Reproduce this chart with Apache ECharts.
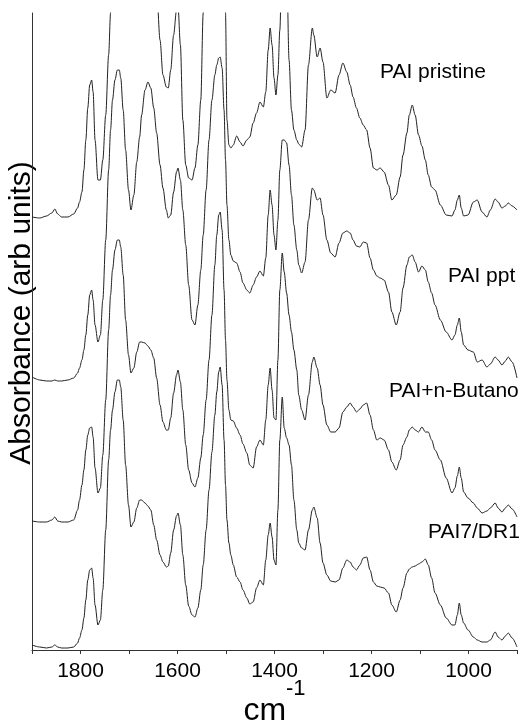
<!DOCTYPE html>
<html>
<head>
<meta charset="utf-8">
<script src="https://cdn.jsdelivr.net/npm/echarts@6/dist/echarts.min.js"></script>
<style>
html,body{margin:0;padding:0;background:#fff;}
#chart{width:519px;height:722px;}
</style>
</head>
<body>
<div id="chart"></div>
<script>
// Wavenumber grid (cm-1)
const wavenumbers = [1900,1884,1870,1859,1853,1847,1839,1826,1814,1806,
1802,1797,1793,1789,1785,1781,1777,1774,1770,1764,
1759,1754,1748,1742,1738,1734,1729,1724,1720,1717,
1712,1707,1701,1696,1690,1684,1678,1674,1667,1661,
1655,1649,1643,1636,1630,1623,1619,1614,1608,1602,
1599,1594,1589,1583,1577,1570,1564,1558,1552,1547,
1541,1535,1529,1523,1519,1515,1512,1508,1504,1501,
1498,1494,1490,1485,1478,1471,1465,1457,1451,1444,
1437,1430,1423,1418,1413,1409,1405,1401,1397,1393,
1389,1384,1380,1375,1370,1365,1360,1354,1350,1344,
1337,1330,1322,1319,1312,1306,1300,1292,1284,1275,
1267,1259,1251,1244,1238,1231,1224,1217,1210,1203,
1196,1189,1182,1174,1165,1158,1149,1141,1135,1127,
1122,1116,1110,1103,1096,1089,1083,1076,1069,1058,
1046,1034,1028,1023,1019,1015,1010,1001,990,982,
972,962,955,945,939,931,924,918,910,900];

// Absorbance (arb. units, offset traces)
const paiPristine = [433,432,434,437,441,436,433,433,436,442,
448,458,480,510,542,565,570,558,510,470,
470,490,535,595,637,690,760,850,890,870,
820,760,710,690,710,770,820,850,875,880,
830,740,660,610,575,563,562,580,615,640,
644,605,530,485,472,470,482,505,550,637,
740,850,950,990,1000,980,950,870,740,637,
530,505,502,505,514,508,504,510,513,527,
537,548,543,558,600,622,605,572,555,575,
620,710,790,690,590,540,520,510,506,503,
520,585,622,615,593,602,588,552,560,557,
575,587,578,565,553,542,532,525,520,502,
482,480,482,478,465,450,455,473,495,517,
535,545,535,515,504,490,475,463,460,445,
435,434,440,450,455,442,434,435,448,450,
438,433,440,451,448,442,444,447,444,440];

const paiPpt = [273,270,269,269,270,269,269,270,272,277,
282,290,300,315,335,355,360,350,325,308,
315,350,410,480,520,550,570,580,580,572,
540,500,460,440,455,488,513,535,560,568,
562,542,517,485,462,440,432,435,458,478,
482,470,440,405,365,330,325,345,380,415,
460,510,550,575,585,592,593,582,540,490,
445,410,395,389,387,378,367,360,357,365,
373,379,374,392,435,460,445,415,400,430,
480,510,510,507,485,455,425,400,385,377,
388,430,462,460,450,452,435,410,397,393,
407,417,419,417,410,404,403,408,407,392,
380,374,372,370,358,338,325,338,362,385,
393,395,388,378,384,380,368,357,345,330,
318,310,315,325,332,318,305,300,298,288,
290,283,286,293,290,285,289,293,288,272];

const paiButanol = [129,128,128,130,133,129,128,128,130,140,
150,165,180,200,215,222,223,213,182,157,
162,195,250,320,355,380,400,410,410,403,
375,330,295,277,282,298,308,308,307,304,
300,292,272,245,228,220,220,232,257,275,
280,268,240,205,180,167,163,172,192,215,
250,290,335,385,415,435,438,420,360,310,
270,240,230,229,222,215,206,197,185,182,
203,210,205,230,265,282,260,232,230,290,
360,397,378,357,335,318,300,280,255,240,
230,255,288,293,282,265,245,225,218,218,
222,238,243,247,243,238,241,245,247,235,
220,210,212,210,200,188,180,190,205,213,
220,223,220,218,223,218,218,210,200,190,
172,157,162,174,183,172,158,152,147,142,
137,139,142,147,142,138,142,145,141,133];

const pai7Dr1 = [5,3,2,3,5,3,2,2,3,7,
12,20,32,50,70,80,82,72,45,25,
30,60,120,190,220,240,258,270,270,263,
230,185,145,123,128,142,150,150,147,144,
140,125,110,95,88,83,84,97,120,134,
137,125,95,65,44,35,33,42,60,85,
120,160,198,235,258,278,283,265,210,165,
130,107,95,85,73,68,60,52,46,48,
62,70,65,90,115,127,113,90,85,140,
210,253,222,212,205,185,150,120,107,102,
100,120,140,143,132,107,87,75,69,68,
70,82,90,88,83,80,85,92,93,80,
68,64,63,62,57,45,38,50,62,77,
81,83,84,86,88,91,85,72,57,45,
32,25,25,35,47,35,27,20,13,10,
8,8,10,18,13,10,14,17,12,3];

const traceNames = ['PAI pristine','PAI ppt','PAI+n-Butanol','PAI7/DR1'];
const traceValues = [paiPristine, paiPpt, paiButanol, pai7Dr1];
const labeledTicks = [1000,1200,1400,1600,1800];

const FONT = '"Liberation Sans", Arial, Helvetica, sans-serif';
const chart = echarts.init(document.getElementById('chart'), null, {renderer:'canvas'});

const series = traceValues.map((vals, k) => ({
  name: traceNames[k],
  type: 'line',
  data: wavenumbers.map((w, i) => [w, vals[i]]),
  showSymbol: false,
  smooth: 0.3,
  smoothMonotone: 'x',
  clip: true,
  lineStyle: {color: '#222', width: 1},
  silent: true
}));

chart.setOption({
  animation: false,
  backgroundColor: '#fff',
  grid: {left: 32, right: 2, top: 13, bottom: 72, containLabel: false, outerBoundsMode: 'none'},
  xAxis: {
    type: 'value', min: 900, max: 1900, interval: 100, inverse: true,
    axisLine: {show: true, lineStyle: {color: '#333', width: 1}},
    axisTick: {show: true, length: 4, lineStyle: {color: '#333'}},
    splitLine: {show: false},
    axisLabel: {
      margin: 11, color: '#000', fontSize: 21, fontFamily: FONT,
      formatter: v => labeledTicks.indexOf(v) >= 0 ? String(v) : ''
    },
    name: '{a|cm}{b|-1}',
    nameLocation: 'middle',
    nameGap: 45,
    nameMoveOverlap: false,
    nameTextStyle: {
      rich: {
        a: {fontSize: 32, lineHeight: 32, fontFamily: FONT, color: '#000', verticalAlign: 'bottom'},
        b: {fontSize: 22, lineHeight: 22, fontFamily: FONT, color: '#000', verticalAlign: 'bottom', padding: [0,0,27,0]}
      }
    }
  },
  yAxis: {
    type: 'value', min: 0, max: 637,
    axisLine: {show: true, lineStyle: {color: '#333', width: 1}},
    axisTick: {show: false},
    axisLabel: {show: false},
    splitLine: {show: false},
    name: 'Absorbance (arb units)',
    nameLocation: 'middle',
    nameGap: -5,
    nameMoveOverlap: false,
    nameTextStyle: {fontSize: 30, fontFamily: FONT, color: '#000', padding: [0,0,0,37]}
  },
  graphic: [
    {type:'text', left: 380, top: 62, style:{text:'PAI pristine', font:'21px ' + FONT, fill:'#000'}},
    {type:'text', left: 448, top: 266, style:{text:'PAI ppt', font:'21px ' + FONT, fill:'#000'}},
    {type:'text', left: 389, top: 381, style:{text:'PAI+n-Butanol', font:'21px ' + FONT, fill:'#000'}},
    {type:'text', left: 428, top: 522, style:{text:'PAI7/DR1', font:'21px ' + FONT, fill:'#000'}}
  ],
  series: series
});
</script>
</body>
</html>
